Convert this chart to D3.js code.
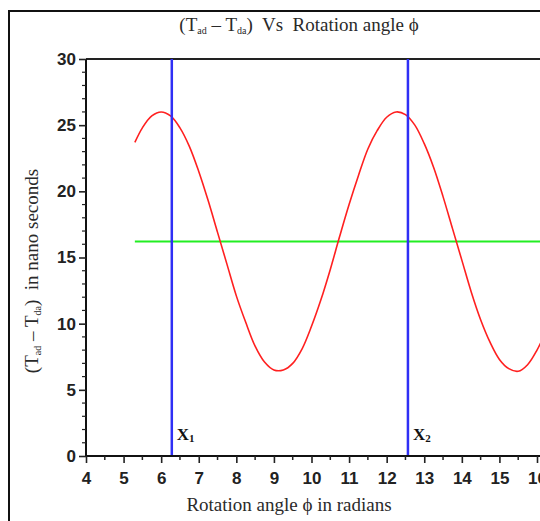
<!DOCTYPE html>
<html><head><meta charset="utf-8">
<script src="https://cdn.jsdelivr.net/npm/d3@7"></script>
<style>body{margin:0;background:#fff;} svg{display:block;}</style>
</head><body>
<svg id="c" width="540" height="521"></svg>
<script>
// Data
const phi = [5.3,5.5,5.75,6.0,6.25,6.5,6.75,7.0,7.25,7.5,7.75,8.0,8.25,8.5,8.75,9.0,9.25,9.5,9.75,10.0,10.25,10.5,10.75,11.0,11.25,11.5,11.75,12.0,12.25,12.5,12.75,13.0,13.25,13.5,13.75,14.0,14.25,14.5,14.75,15.0,15.25,15.5,15.75,16.0,16.25];
const tdiff = [23.7,24.8,25.7,26.0,25.7,24.8,23.4,21.5,19.3,16.9,14.5,12.1,10.1,8.3,7.1,6.5,6.5,7.0,8.1,9.8,11.8,14.1,16.6,19.0,21.2,23.2,24.6,25.6,26.0,25.8,25.0,23.6,21.8,19.6,17.2,14.8,12.4,10.3,8.6,7.3,6.6,6.4,6.9,8.0,9.5];
const meanLevel = 16.2;
const meanRange = [5.3, 16.3];
const markers = [{x:6.283, label:"X", sub:"1"}, {x:12.566, label:"X", sub:"2"}];
const xTicks = [4,5,6,7,8,9,10,11,12,13,14,15,16];
const yTicks = [0,5,10,15,20,25,30];

const svg = d3.select("#c");
const x = d3.scaleLinear().domain([4,16]).range([86,537]);
const y = d3.scaleLinear().domain([0,30]).range([456,59]);
const serif = "Liberation Serif, Times New Roman, serif";
const sans = "Liberation Sans, Arial, sans-serif";

// outer frame (left and top visible)
svg.append("path").attr("d","M9,521 V11 H540").attr("fill","none").attr("stroke","#111").attr("stroke-width",2);

function subLabel(sel, parts){
  parts.forEach(p=>{
    const t = sel.append("tspan").text(p[0]);
    if(p[1]) t.attr("font-size",10).attr("dy",3); else if(p[2]) t.attr("dy",-3);
  });
}

// title
const title = svg.append("text").attr("x",299).attr("y",31).attr("text-anchor","middle")
  .attr("font-family",serif).attr("font-size",19).attr("fill","#2a2a2a").attr("xml:space","preserve");
subLabel(title, [["(T"],["ad",1],[" \u2013 T",0,1],["da",1],[")  Vs  Rotation angle \u03d5",0,1]]);

// plot top border
svg.append("line").attr("x1",x(4)).attr("x2",540).attr("y1",y(30)).attr("y2",y(30)).attr("stroke","#222").attr("stroke-width",2);

// green mean line
svg.append("line").attr("x1",x(meanRange[0])).attr("x2",x(meanRange[1])).attr("y1",y(meanLevel)).attr("y2",y(meanLevel))
  .attr("stroke","#22ee22").attr("stroke-width",2);

// red curve
const line = d3.line().x((d,i)=>x(phi[i])).y((d,i)=>y(tdiff[i])).curve(d3.curveCatmullRom);
svg.append("path").datum(tdiff).attr("d",line).attr("fill","none").attr("stroke","#ff2020").attr("stroke-width",1.6);

// blue markers
markers.forEach(m=>{
  svg.append("line").attr("x1",x(m.x)).attr("x2",x(m.x)).attr("y1",y(0)).attr("y2",y(30)).attr("stroke","#2f2ff5").attr("stroke-width",2.5);
  const t = svg.append("text").attr("x",x(m.x)+5).attr("y",440).attr("font-family",serif)
    .attr("font-weight","bold").attr("font-size",17).attr("fill","#111");
  t.append("tspan").text(m.label);
  t.append("tspan").text(m.sub).attr("font-size",11).attr("dy",2);
});

// axes
const xAxis = d3.axisBottom(x).tickValues(xTicks).tickSize(7).tickPadding(9);
const gx = svg.append("g").attr("transform",`translate(0,${y(0)})`).call(xAxis);
gx.selectAll(".tick line").attr("stroke","#222").attr("stroke-width",1.6);
const xMinor = d3.range(4.5,16.01,1);
gx.selectAll(".minor").data(xMinor).enter().append("line").attr("x1",d=>x(d)).attr("x2",d=>x(d)).attr("y1",0).attr("y2",4).attr("stroke","#222").attr("stroke-width",1.5);
gx.select(".domain").attr("d",`M${x(4)},0H540`).attr("stroke","#111").attr("stroke-width",2);
gx.selectAll(".tick text").attr("font-family",sans).attr("font-weight","bold").attr("font-size",17).attr("fill","#222");

const yAxis = d3.axisLeft(y).tickValues(yTicks).tickSize(7).tickPadding(3);
const gy = svg.append("g").attr("transform",`translate(${x(4)},0)`).call(yAxis);
gy.selectAll(".tick line").attr("stroke","#222").attr("stroke-width",1.6);
const yMinor = d3.range(0,30.01,1).filter(v=>v%5!==0);
gy.selectAll(".minor").data(yMinor).enter().append("line").attr("x1",0).attr("x2",-4).attr("y1",d=>y(d)).attr("y2",d=>y(d)).attr("stroke","#222").attr("stroke-width",1.2);
gy.select(".domain").attr("d",`M0,${y(0)}V${y(30)}`).attr("stroke","#111").attr("stroke-width",2);
gy.selectAll(".tick text").attr("font-family",sans).attr("font-weight","bold").attr("font-size",17).attr("fill","#222");

// x axis label
svg.append("text").attr("x",289).attr("y",511).attr("text-anchor","middle")
  .attr("font-family",serif).attr("font-size",19).attr("fill","#2a2a2a")
  .text("Rotation angle \u03d5 in radians");

// y axis label
const yl = svg.append("text").attr("transform","translate(38,271) rotate(-90)").attr("text-anchor","middle")
  .attr("font-family",serif).attr("font-size",19).attr("fill","#2a2a2a").attr("xml:space","preserve");
subLabel(yl, [["(T"],["ad",1],[" \u2013 T",0,1],["da",1],[")  in nano seconds",0,1]]);
</script>
</body></html>
